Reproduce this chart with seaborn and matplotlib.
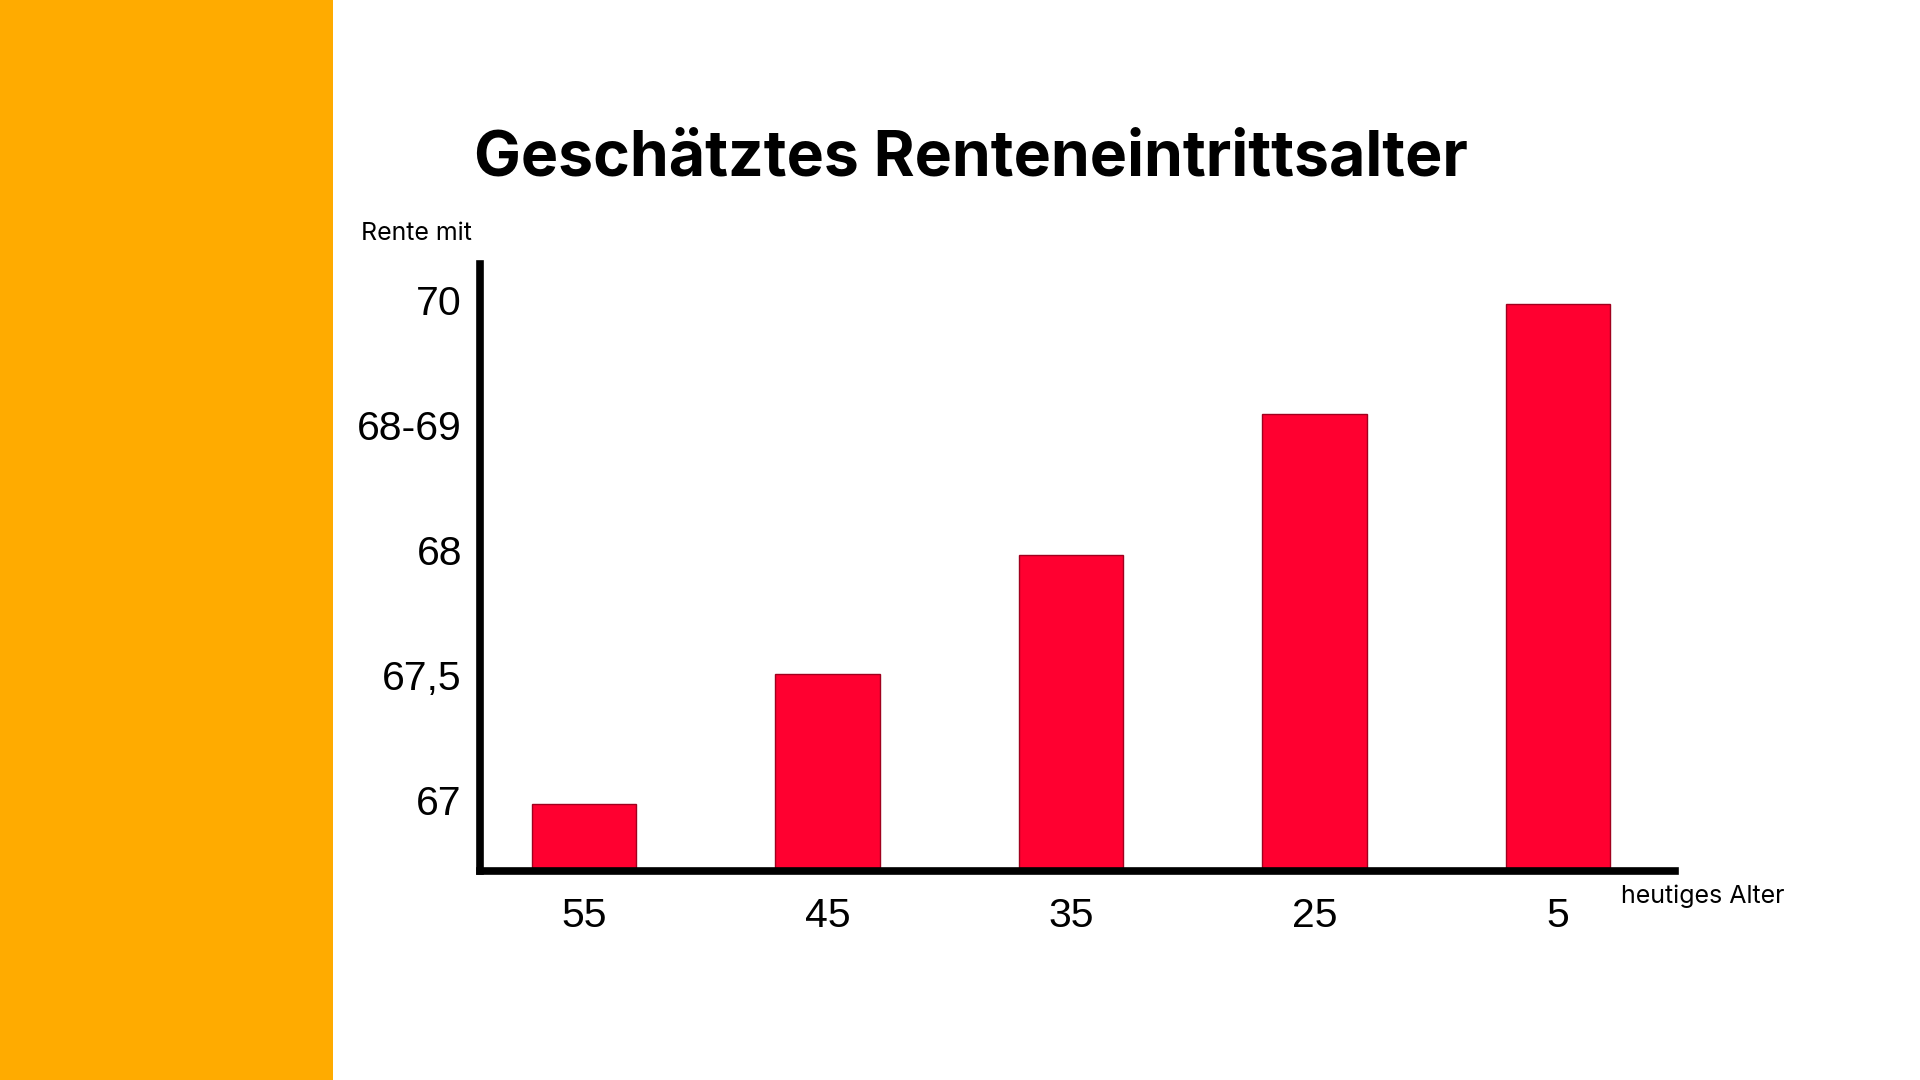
import matplotlib
matplotlib.use("Agg")
import matplotlib.pyplot as plt
import seaborn as sns
import pandas as pd
from matplotlib.patches import Rectangle

# Data
heutiges_alter = ["55", "45", "35", "25", "5"]
bar_heights = [0.54, 1.58, 2.53, 3.66, 4.54]   # in axis units (tick step = 1)
ytick_positions = [0.57, 1.57, 2.57, 3.57, 4.57]
ytick_labels = ["67", "67,5", "68", "68-69", "70"]

df = pd.DataFrame({"alter": heutiges_alter, "rente": bar_heights})

sns.set_theme(style="white")
plt.rcParams["font.family"] = ["Liberation Sans", "DejaVu Sans"]

fig = plt.figure(figsize=(19.2, 10.8), dpi=100)
fig.patch.set_facecolor("white")
fig.patches.append(Rectangle((0, 0), 333 / 1920, 1, transform=fig.transFigure,
                             facecolor="#FFAB00", edgecolor="none", zorder=0))

ax = fig.add_axes([480 / 1920, 1 - 871 / 1080, (1675 - 480) / 1920, (871 - 264) / 1080])
sns.barplot(data=df, x="alter", y="rente", ax=ax, color="#FF0030",
            edgecolor="#A0001E", linewidth=1, width=0.43, saturation=1)

ax.set_xlim(-0.427, 4.48)
ax.set_ylim(0, 4.856)
ax.set_yticks(ytick_positions)
ax.set_yticklabels(ytick_labels)
ax.set_xlabel("")
ax.set_ylabel("")
ax.tick_params(axis="both", length=0, labelsize=29.5, colors="black")
ax.tick_params(axis="y", pad=13)
ax.tick_params(axis="x", pad=19)

for s in ["top", "right"]:
    ax.spines[s].set_visible(False)
for s in ["left", "bottom"]:
    ax.spines[s].set_linewidth(5.5)
    ax.spines[s].set_color("black")
    ax.spines[s].set_capstyle("projecting")
ax.set_facecolor("white")

fig.text(474 / 1920, 1 - 159 / 1080, "Geschätztes Renteneintrittsalter",
         fontsize=45, fontweight="bold", va="center", ha="left",
         family=["Inter", "DejaVu Sans"], color="black")
fig.text(361 / 1920, 1 - 233 / 1080, "Rente mit", fontsize=18,
         va="center", ha="left", family=["Inter", "DejaVu Sans"], color="black")
fig.text(1621 / 1920, 1 - 896 / 1080, "heutiges Alter", fontsize=18,
         va="center", ha="left", family=["Inter", "DejaVu Sans"], color="black")

fig.savefig("out.png", dpi=100)
